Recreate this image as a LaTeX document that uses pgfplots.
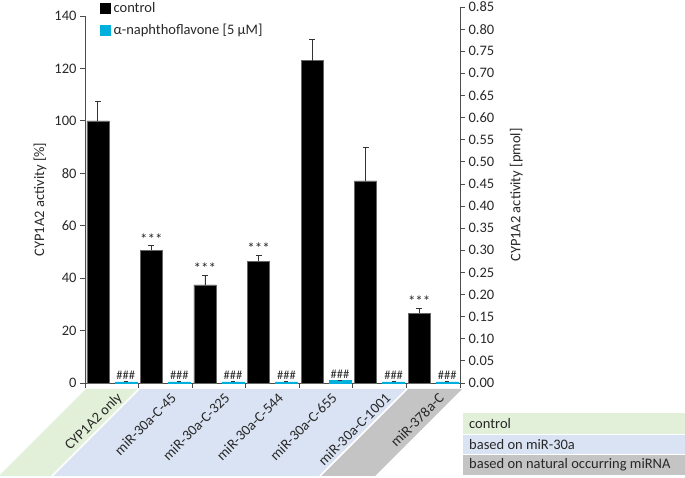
\documentclass[border=0pt]{standalone}
\usepackage{fontspec}
\setmainfont{Carlito}
\usepackage{pgfplots}
\pgfplotsset{compat=1.18}
\definecolor{cyanbar}{RGB}{0,176,220}
\definecolor{gfill}{RGB}{226,240,217}
\definecolor{bfill}{RGB}{218,227,243}
\definecolor{grfill}{RGB}{196,196,196}
\definecolor{txt}{RGB}{40,40,40}
\newcommand\fs{\fontsize{14.5}{17}\selectfont}
\newcommand\fss{\fontsize{12.5}{14}\selectfont}
\newcommand\fsa{\fontsize{15}{16}\selectfont}
\begin{document}
\begin{tikzpicture}[font=\fs]
\useasboundingbox (0pt,0pt) rectangle (685pt,478pt);
% category group backgrounds
\fill[gfill] (86pt,89pt) -- (139pt,89pt) -- (52pt,2pt) -- (0pt,2pt) -- (0pt,3pt) -- cycle;
\fill[bfill] (139pt,89pt) -- (407pt,89pt) -- (320pt,2pt) -- (52pt,2pt) -- cycle;
\fill[grfill] (407pt,89pt) -- (462pt,89pt) -- (375pt,2pt) -- (320pt,2pt) -- cycle;
\draw[white, line width=1.5pt] (139pt,89pt) -- (52pt,2pt);
\draw[white, line width=1.5pt] (407pt,89pt) -- (320pt,2pt);
% group key
\fill[gfill] (463pt,43pt) rectangle (685pt,65pt);
\fill[bfill] (463pt,23pt) rectangle (685pt,43pt);
\fill[grfill] (463pt,3pt) rectangle (685pt,23pt);
\draw[white, line width=1pt] (463pt,43pt) -- (685pt,43pt);
\draw[white, line width=1pt] (463pt,23pt) -- (685pt,23pt);
\node[anchor=west, text=txt, inner sep=0pt] at (469pt,54pt) {control};
\node[anchor=west, text=txt, inner sep=0pt] at (469pt,33pt) {based on miR-30a};
\node[anchor=west, text=txt, inner sep=0pt] at (469pt,13pt) {based on natural occurring miRNA};

\begin{axis}[
  at={(85pt,95pt)}, anchor=south west, scale only axis,
  width=375pt, height=367pt,
  xmin=0, xmax=7, ymin=0, ymax=140,
  clip=false,
  axis y line*=left, axis x line*=bottom,
  axis line style={-, black!70, line width=0.8pt},
  ytick={0,20,...,140},
  xtick={0.5,1.5,...,6.5},
  xticklabels={CYP1A2 only, miR-30a-C-45, miR-30a-C-325, miR-30a-C-544, miR-30a-C-655, miR-30a-C-1001, miR-378a-C},
  minor xtick={0,1,...,7},
  major x tick style={draw=none},
  tick style={black!70, line width=0.8pt},
  tick align=outside,
  major tick length=5pt, minor tick length=5pt,
  tick label style={font=\fs, text=txt},
  xticklabel style={xshift=9pt, yshift=-7pt, rotate=45, anchor=east, inner sep=1pt},
  /pgf/number format/assume math mode=true,
  ylabel={CYP1A2 activity [\%]},
  every axis y label/.style={at={(axis description cs:-0.12,0.5)}, rotate=90, anchor=center, font=\fs, text=txt},
  legend style={draw=none, fill=none, at={(0.04,1.047)}, anchor=north west, font=\fs, text=txt, row sep=5pt, inner sep=0pt, nodes={inner sep=3pt}},
  legend cell align=left,
]
\addplot[ybar, bar width=22pt, bar shift=0pt, fill=black, draw=black!60,
  legend image code/.code={\fill[black] (0pt,-5pt) rectangle (10pt,5pt);},
  error bars/.cd, y dir=plus, y explicit,
  error bar style={black!80, line width=0.8pt},
  error mark options={rotate=90, mark size=3pt, black!80, line width=0.8pt}]
  coordinates {
  (0.239,100.0) +- (0,7.6)
  (1.239,50.6) +- (0,1.7)
  (2.239,37.4) +- (0,3.8)
  (3.239,46.5) +- (0,2.3)
  (4.239,123.0) +- (0,8.2)
  (5.239,77.1) +- (0,12.6)
  (6.239,26.7) +- (0,1.9)
  };
\addlegendentry{control}
\addplot[ybar, bar width=22pt, bar shift=0pt, fill=cyanbar, draw=cyanbar,
  legend image code/.code={\fill[cyanbar] (0pt,-5pt) rectangle (10pt,5pt);},
  error bars/.cd, y dir=plus, y explicit,
  error bar style={black!80, line width=0.6pt},
  error mark options={rotate=90, mark size=2pt, black!80}]
  coordinates {
  (0.761,0.4) +- (0,0.3)
  (1.761,0.4) +- (0,0.3)
  (2.761,0.4) +- (0,0.3)
  (3.761,0.4) +- (0,0.3)
  (4.761,0.9) +- (0,0.3)
  (5.761,0.4) +- (0,0.3)
  (6.761,0.4) +- (0,0.3)
  };
\addlegendentry{α-naphthoflavone [5 µM]}
% significance labels
\addplot[draw=none, mark=none, forget plot, point meta=explicit symbolic,
  nodes near coords, nodes near coords style={anchor=south, font=\fsa, text=txt, inner sep=1pt}]
  coordinates {
  (1.239,52.3) [***]
  (2.239,41.2) [***]
  (3.239,48.8) [***]
  (6.239,28.6) [***]
  };
\addplot[draw=none, mark=none, forget plot, point meta=explicit symbolic,
  nodes near coords, nodes near coords style={anchor=south, font=\fss, text=txt, inner sep=1.5pt}]
  coordinates {
  (0.761,0.7) [\#\#\#]
  (1.761,0.7) [\#\#\#]
  (2.761,0.7) [\#\#\#]
  (3.761,0.7) [\#\#\#]
  (4.761,1.2) [\#\#\#]
  (5.761,0.7) [\#\#\#]
  (6.761,0.7) [\#\#\#]
  };
\end{axis}

\begin{axis}[
  at={(85pt,95pt)}, anchor=south west, scale only axis,
  width=375pt, height=376pt,
  xmin=0, xmax=7, ymin=0, ymax=0.85,
  axis y line*=right, axis x line=none,
  axis line style={-, black!70, line width=0.8pt},
  ytick={0,0.05,0.1,0.15,0.2,0.25,0.3,0.35,0.4,0.45,0.5,0.55,0.6,0.65,0.7,0.75,0.8,0.85},
  tick style={black!70, line width=0.8pt},
  tick align=outside, major tick length=5pt,
  tick label style={font=\fs, text=txt},
  yticklabel style={/pgf/number format/.cd, fixed, fixed zerofill, precision=2},
  /pgf/number format/assume math mode=true,
  ylabel={CYP1A2 activity [pmol]},
  every axis y label/.style={at={(axis description cs:1.15,0.5)}, rotate=90, anchor=center, font=\fs, text=txt},
]
\end{axis}
\end{tikzpicture}
\end{document}
